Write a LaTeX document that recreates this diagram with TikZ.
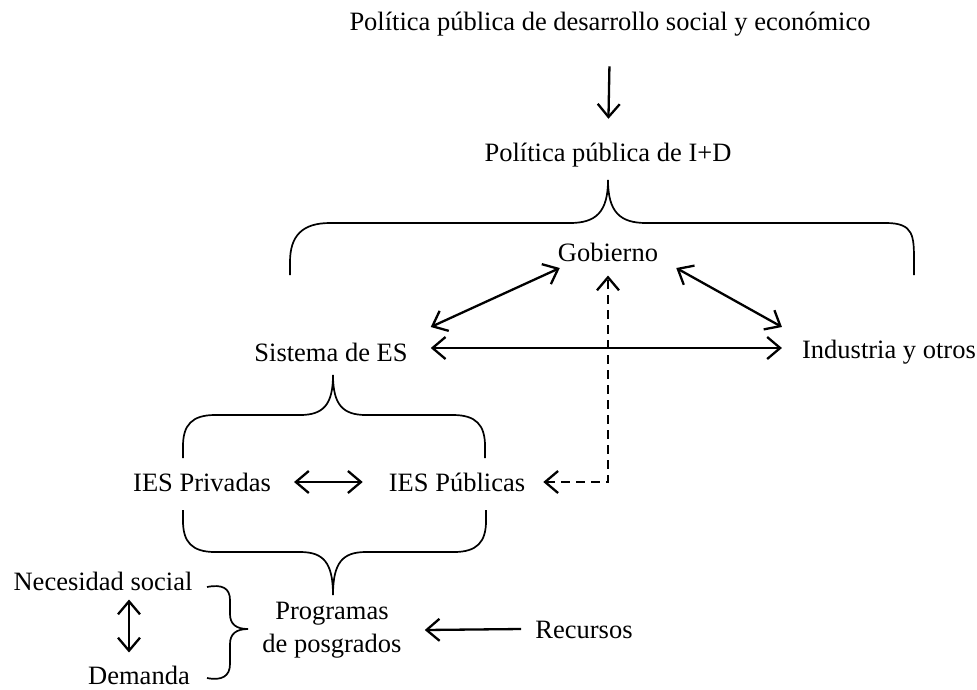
\documentclass[tikz,border=0pt]{standalone}
\usepackage{fontspec}
\setmainfont{Liberation Serif}
\usetikzlibrary{arrows.meta,calc}
\begin{document}
\begin{tikzpicture}[x=1pt,y=-1pt,
  lbl/.style={font=\fontsize{26.5}{33}\selectfont, inner sep=0pt, align=center},
  barb/.tip={Straight Barb[length=13pt,width=22pt]},
  link/.style={line width=2.3pt,barb-barb},
  oneway/.style={line width=2.3pt,-barb},
  dashlink/.style={link,dash pattern=on 9pt off 6pt},
  brace/.style={line width=1.7pt}]
\useasboundingbox (0,0) rectangle (977,689);

% labels
\node[lbl] (top) at (610,24) {Política pública de desarrollo social y económico};
\node[lbl] (idp) at (608,155) {Política pública de I+D};
\node[lbl] (gob) at (608,252) {Gobierno};
\node[lbl] (sis) at (331,352) {Sistema de ES};
\node[lbl] (ind) at (889,352) {Industria y otros};
\node[lbl] (priv) at (202,482) {IES Privadas};
\node[lbl] (pub) at (457,482) {IES Públicas};
\node[lbl] (prog) at (332,630) {Programas\\de posgrados};
\node[lbl] (nec) at (103,581) {Necesidad social};
\node[lbl] (dem) at (139,675) {Demanda};
\node[lbl] (rec) at (584,630) {Recursos};

% arrows
\draw[oneway,shorten <=30pt,shorten >=24pt] (top.south) -- (idp.north);
\draw[link] ([shift={(23,-25)}]sis.east) -- ([shift={(2,16)}]gob.west);
\draw[link] ([shift={(18,16)}]gob.east) -- ([shift={(-20,-25)}]ind.west);
\draw[link] ([shift={(23,-4)}]sis.east) -- ([shift={(-20,-4)}]ind.west);
\draw[dashlink] ([shift={(18,0)}]pub.east) -| ([shift={(0,14)}]gob.south);
\draw[link] ([shift={(23,0)}]priv.east) -- ([shift={(-26,0)}]pub.west);
\draw[link] ([shift={(26,9)}]nec.south) -- ([shift={(-10,-13)}]dem.north);
\draw[oneway] ([shift={(-14,-1)}]rec.west) -- ([shift={(23,0)}]prog.east);

% brace under the I+D policy
\draw[brace] (290,275) -- (290,262) .. controls (290,236) and (302,223) .. (330,223)
  -- (570,223) .. controls (596,223) and (608,212) .. (608,180)
  .. controls (608,212) and (620,223) .. (646,223) -- (886,223)
  .. controls (914,223) and (914,236) .. (914,262) -- (914,275);
% brace under the higher-education system
\draw[brace] (183,458) -- (183,446) .. controls (183,425) and (192,415) .. (215,415)
  -- (300,415) .. controls (323,415) and (333,405) .. (333,375)
  .. controls (333,405) and (343,415) .. (366,415) -- (453,415)
  .. controls (476,415) and (485,425) .. (485,446) -- (485,458);
% brace joining both kinds of institutions
\draw[brace] (183,510) -- (183,521) .. controls (183,542) and (192,552) .. (215,552)
  -- (300,552) .. controls (323,552) and (333,562) .. (333,595)
  .. controls (333,562) and (343,552) .. (366,552) -- (454,552)
  .. controls (477,552) and (486,542) .. (486,521) -- (486,510);
% brace joining need and demand
\draw[brace] (207,587) .. controls (222,584) and (230,588) .. (230,600) -- (230,614)
  .. controls (230,624) and (236,629) .. (248,629)
  .. controls (236,629) and (230,634) .. (230,644) -- (230,664)
  .. controls (230,676) and (222,681) .. (207,678);
\end{tikzpicture}
\end{document}
